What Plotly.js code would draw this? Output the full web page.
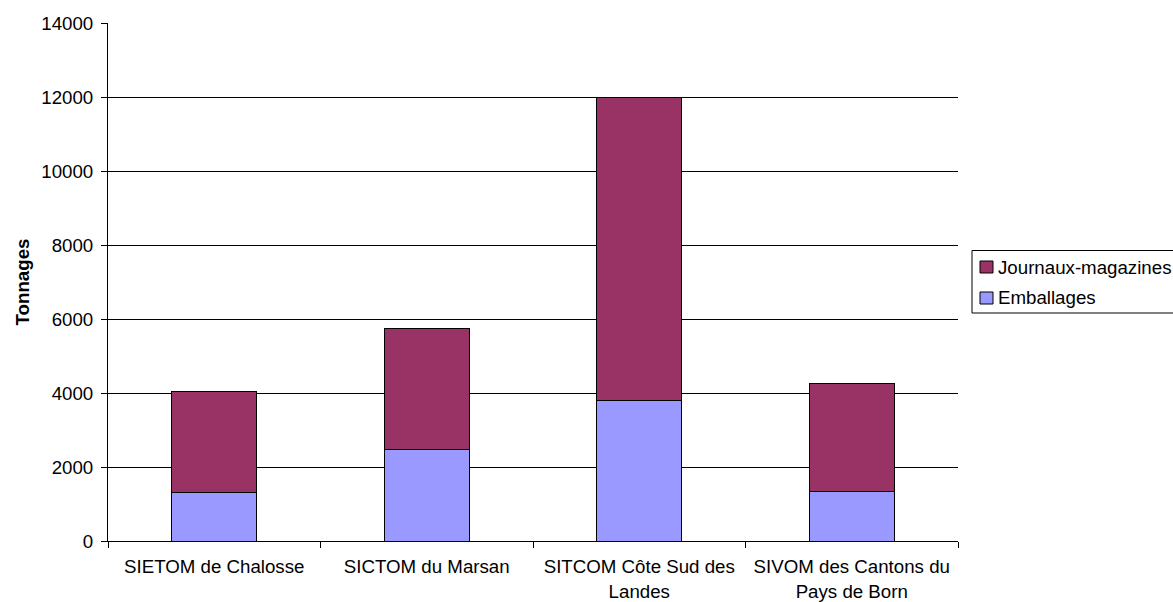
<!DOCTYPE html>
<html>
<head>
<meta charset="utf-8">
<script src="https://cdn.plot.ly/plotly-3.0.1.min.js"></script>
<style>html,body{margin:0;padding:0;background:#fff;}#chart{width:1173px;height:602px;}</style>
</head>
<body>
<div id="chart"></div>
<script>
const categories = ["SIETOM de Chalosse", "SICTOM du Marsan", "SITCOM Côte Sud des<br>Landes", "SIVOM des Cantons du<br>Pays de Born"];
const seriesNames = ["Emballages", "Journaux-magazines"];
const seriesColors = ["#9999FF", "#993366"];
const emballages = [1300, 2460, 3810, 1350];
const journaux = [2750, 3270, 8190, 2910];
const yTicks = [0, 2000, 4000, 6000, 8000, 10000, 12000, 14000];

const FS = 18.7;
const font = {family: "Liberation Sans, Arial, sans-serif", size: FS, color: "#000"};

const traces = [
  {type: "bar", name: seriesNames[0], x: categories, y: emballages,
   marker: {color: seriesColors[0], line: {color: "#000", width: 1}}, width: 0.4, hoverinfo: "y"},
  {type: "bar", name: seriesNames[1], x: categories, y: journaux,
   marker: {color: seriesColors[1], line: {color: "#000", width: 1}}, width: 0.4, hoverinfo: "y"}
];

// plot area geometry (pixels) used to place the custom legend
const L = 108, R = 958, T = 23, B = 541;
const px = v => (v - L) / (R - L);
const py = v => (B - v) / (B - T);

const shapes = [
  {type: "rect", xref: "paper", yref: "paper", x0: px(972), x1: px(1185), y0: py(313), y1: py(250.5),
   line: {color: "#000", width: 1}, fillcolor: "rgba(0,0,0,0)"},
  {type: "rect", xref: "paper", yref: "paper", x0: px(980), x1: px(993), y0: py(273), y1: py(261),
   line: {color: "#000", width: 1}, fillcolor: seriesColors[1]},
  {type: "rect", xref: "paper", yref: "paper", x0: px(980), x1: px(993), y0: py(304), y1: py(292),
   line: {color: "#000", width: 1}, fillcolor: seriesColors[0]}
];
const annotations = [
  {xref: "paper", yref: "paper", x: px(996), y: py(267), xanchor: "left", yanchor: "middle",
   text: seriesNames[1], showarrow: false, font: font},
  {xref: "paper", yref: "paper", x: px(996), y: py(298), xanchor: "left", yanchor: "middle",
   text: seriesNames[0], showarrow: false, font: font}
];

const layout = {
  width: 1173, height: 602,
  margin: {l: L, r: 1173 - R, t: T, b: 602 - B},
  paper_bgcolor: "#fff", plot_bgcolor: "#fff",
  barmode: "stack",
  font: font,
  showlegend: false,
  shapes: shapes,
  annotations: annotations,
  xaxis: {type: "category", showline: true, linecolor: "#000", linewidth: 1,
          ticks: "outside", ticklen: 6, tickcolor: "#000", tickson: "boundaries",
          ticklabelstandoff: 9,
          showgrid: false, tickfont: font, zeroline: false},
  yaxis: {range: [0, 14000], tickvals: yTicks, ticktext: yTicks.map(String),
          showline: true, linecolor: "#000", linewidth: 1,
          ticks: "outside", ticklen: 6, tickcolor: "#000",
          ticklabelstandoff: 4,
          showgrid: true, gridcolor: "#000", gridwidth: 1, zeroline: false,
          tickfont: font,
          title: {text: "<b>Tonnages</b>", font: {family: font.family, size: FS, color: "#000"}, standoff: 6}}
};

Plotly.newPlot("chart", traces, layout, {displayModeBar: false, staticPlot: true});
</script>
</body>
</html>
